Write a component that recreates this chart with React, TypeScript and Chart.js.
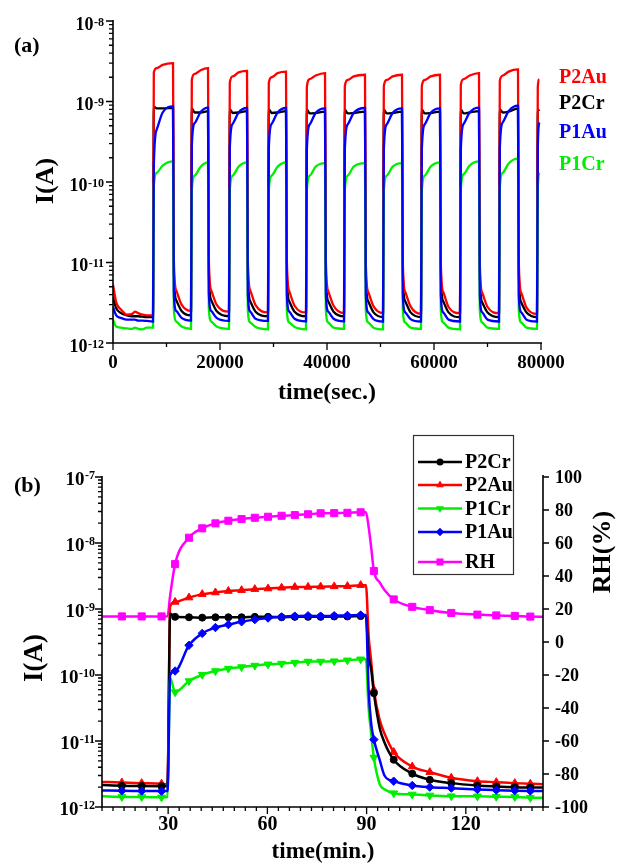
import React, { useEffect, useRef } from 'react';
import { Chart, registerables } from 'chart.js';

Chart.register(...registerables);

// ---------------- Panel (a) data ----------------
const timeA = [
  0, 600, 1500, 2600, 3600, 4100, 4700, 5500, 6300,
  7480, 7630, 8180, 9280, 11220, 11370, 11820, 12820,
  14580, 14730, 15280, 16380, 17760, 17910, 18360, 19360,
  21680, 21830, 22380, 23480, 25050, 25200, 25650, 26650,
  28970, 29120, 29670, 30770, 32340, 32490, 32940, 33940,
  36080, 36230, 36780, 37880, 39630, 39780, 40230, 41230,
  43180, 43330, 43880, 44980, 47100, 47250, 47700, 48700,
  50470, 50620, 51170, 52270, 54020, 54170, 54620, 55620,
  57570, 57720, 58270, 59370, 61120, 61270, 61720, 62720,
  64860, 65010, 65560, 66660, 68410, 68560, 69010, 70010,
  72150, 72300, 72850, 73950, 75700, 75850, 76300, 77300,
  79250, 79400, 79650,
];
const p2AuA = [
  5.3e-12, 3.2e-12, 2.6e-12, 2.25e-12, 2.3e-12, 2.45e-12, 2.35e-12, 2.25e-12, 2.2e-12,
  2.2e-12, 2.3e-9, 2.6e-9, 2.85e-9, 3.0e-9, 1.1e-11, 4.5e-12, 3.0e-12,
  2.5e-12, 1.85e-9, 2.2e-9, 2.45e-9, 2.6e-9, 1.1e-11, 4.5e-12, 3.0e-12,
  2.45e-12, 1.7e-9, 2.05e-9, 2.3e-9, 2.4e-9, 1.1e-11, 4.5e-12, 2.95e-12,
  2.4e-12, 1.7e-9, 2.0e-9, 2.25e-9, 2.35e-9, 1.1e-11, 4.4e-12, 2.9e-12,
  2.4e-12, 1.5e-9, 1.9e-9, 2.1e-9, 2.25e-9, 1.1e-11, 4.4e-12, 2.9e-12,
  2.35e-12, 1.55e-9, 1.85e-9, 2.05e-9, 2.15e-9, 1.0e-11, 4.3e-12, 2.85e-12,
  2.35e-12, 1.55e-9, 1.85e-9, 2.05e-9, 2.15e-9, 1.0e-11, 4.3e-12, 2.85e-12,
  2.3e-12, 1.55e-9, 1.85e-9, 2.05e-9, 2.15e-9, 1.0e-11, 4.3e-12, 2.8e-12,
  2.35e-12, 1.6e-9, 1.9e-9, 2.1e-9, 2.25e-9, 1.0e-11, 4.2e-12, 2.8e-12,
  2.35e-12, 1.8e-9, 2.1e-9, 2.35e-9, 2.5e-9, 1.0e-11, 4.2e-12, 2.75e-12,
  2.3e-12, 1.5e-9, 1.9e-9,
];
const p2CrA = [
  3.7e-12, 2.7e-12, 2.35e-12, 2.2e-12, 2.15e-12, 2.15e-12, 2.15e-12, 2.12e-12, 2.1e-12,
  2.1e-12, 8.6e-10, 8.2e-10, 8.2e-10, 8.3e-10, 7.5e-12, 3.4e-12, 2.5e-12,
  2.2e-12, 8.2e-10, 7.3e-10, 7.3e-10, 7.6e-10, 7.5e-12, 3.4e-12, 2.5e-12,
  2.15e-12, 8.0e-10, 7.2e-10, 7.3e-10, 7.6e-10, 7.2e-12, 3.3e-12, 2.45e-12,
  2.15e-12, 8.0e-10, 7.2e-10, 7.3e-10, 7.6e-10, 7.2e-12, 3.3e-12, 2.45e-12,
  2.15e-12, 7.9e-10, 7.1e-10, 7.2e-10, 7.5e-10, 7.2e-12, 3.3e-12, 2.45e-12,
  2.15e-12, 7.9e-10, 7.1e-10, 7.2e-10, 7.5e-10, 7.2e-12, 3.3e-12, 2.4e-12,
  2.1e-12, 7.9e-10, 7.1e-10, 7.2e-10, 7.5e-10, 7.2e-12, 3.3e-12, 2.4e-12,
  2.1e-12, 7.9e-10, 7.1e-10, 7.2e-10, 7.5e-10, 7.2e-12, 3.3e-12, 2.4e-12,
  2.1e-12, 7.9e-10, 7.1e-10, 7.3e-10, 7.6e-10, 7.2e-12, 3.2e-12, 2.4e-12,
  2.1e-12, 8.0e-10, 7.3e-10, 7.5e-10, 8.2e-10, 7.2e-12, 3.2e-12, 2.4e-12,
  2.1e-12, 8.0e-10, 7.6e-10,
];
const p1AuA = [
  2.8e-12, 2.2e-12, 2.05e-12, 1.95e-12, 1.95e-12, 1.95e-12, 1.9e-12, 1.9e-12, 1.88e-12,
  1.85e-12, 1.6e-10, 4.5e-10, 7.3e-10, 8.7e-10, 4.2e-12, 2.5e-12, 2.05e-12,
  1.9e-12, 2.8e-10, 5.4e-10, 7.4e-10, 8.4e-10, 4.2e-12, 2.5e-12, 2.05e-12,
  1.88e-12, 2.6e-10, 5.3e-10, 7.3e-10, 8.3e-10, 4.1e-12, 2.45e-12, 2.0e-12,
  1.88e-12, 2.6e-10, 5.3e-10, 7.3e-10, 8.3e-10, 4.1e-12, 2.45e-12, 2.0e-12,
  1.86e-12, 2.5e-10, 5.2e-10, 7.2e-10, 8.2e-10, 4.1e-12, 2.45e-12, 2.0e-12,
  1.86e-12, 2.5e-10, 5.2e-10, 7.2e-10, 8.3e-10, 4.0e-12, 2.4e-12, 1.98e-12,
  1.85e-12, 2.5e-10, 5.2e-10, 7.2e-10, 8.2e-10, 4.0e-12, 2.4e-12, 1.98e-12,
  1.85e-12, 2.5e-10, 5.2e-10, 7.2e-10, 8.2e-10, 4.0e-12, 2.4e-12, 1.95e-12,
  1.85e-12, 2.5e-10, 5.3e-10, 7.3e-10, 8.4e-10, 4.0e-12, 2.4e-12, 1.95e-12,
  1.85e-12, 2.6e-10, 5.5e-10, 7.6e-10, 8.9e-10, 4.0e-12, 2.4e-12, 1.95e-12,
  1.85e-12, 2.5e-10, 5.5e-10,
];
const p1CrA = [
  1.95e-12, 1.6e-12, 1.55e-12, 1.52e-12, 1.5e-12, 1.55e-12, 1.5e-12, 1.48e-12, 1.55e-12,
  1.55e-12, 9e-11, 1.3e-10, 1.6e-10, 1.8e-10, 2.7e-12, 1.85e-12, 1.6e-12,
  1.5e-12, 8e-11, 1.2e-10, 1.55e-10, 1.75e-10, 2.7e-12, 1.85e-12, 1.6e-12,
  1.5e-12, 8e-11, 1.2e-10, 1.55e-10, 1.75e-10, 2.6e-12, 1.8e-12, 1.58e-12,
  1.48e-12, 8e-11, 1.2e-10, 1.55e-10, 1.75e-10, 2.6e-12, 1.8e-12, 1.58e-12,
  1.48e-12, 7.8e-11, 1.2e-10, 1.55e-10, 1.72e-10, 2.6e-12, 1.8e-12, 1.55e-12,
  1.5e-12, 7.8e-11, 1.2e-10, 1.55e-10, 1.72e-10, 2.6e-12, 1.8e-12, 1.55e-12,
  1.48e-12, 7.8e-11, 1.2e-10, 1.55e-10, 1.72e-10, 2.6e-12, 1.8e-12, 1.55e-12,
  1.5e-12, 7.8e-11, 1.2e-10, 1.55e-10, 1.75e-10, 2.6e-12, 1.8e-12, 1.55e-12,
  1.48e-12, 8e-11, 1.25e-10, 1.6e-10, 1.8e-10, 2.6e-12, 1.8e-12, 1.55e-12,
  1.5e-12, 8.5e-11, 1.3e-10, 1.7e-10, 1.95e-10, 2.6e-12, 1.8e-12, 1.55e-12,
  1.5e-12, 8e-11, 1.3e-10,
];
const xTicksA = [0, 20000, 40000, 60000, 80000];
const xMinorA = [10000, 30000, 50000, 70000];
const yExpA = [-12, -11, -10, -9, -8];
const legendA = ['P2Au', 'P2Cr', 'P1Au', 'P1Cr'];

// ---------------- Panel (b) data ----------------
const timeB = [
  10, 16, 22, 28, 29.8, 30.6, 32.1, 36.3, 40.3, 44.3, 48.2, 52.2, 56.2, 60.2, 64.3, 68.3, 72.3, 76.1,
  80.2, 84.2, 88.2, 89.8, 90.6, 91.4, 92.2, 94, 95.4, 98.2, 103.8, 109.1, 115.6, 123.5, 129.2, 134.8,
  139.5, 143.3,
];
const unmarkedB = [10, 29.8, 30.6, 89.8, 90.6, 91.4, 94, 95.4, 143.3];
const p2CrB = [
  2.15e-12, 2.1e-12, 2.08e-12, 2.07e-12, 2.07e-12, 8.5e-10, 7.6e-10, 7.5e-10, 7.4e-10, 7.5e-10, 7.5e-10,
  7.5e-10, 7.6e-10, 7.6e-10, 7.5e-10, 7.6e-10, 7.6e-10, 7.6e-10, 7.7e-10, 7.7e-10, 7.8e-10, 7.8e-10,
  2.0e-10, 1.2e-10, 5.3e-11, 1.54e-11, 9.5e-12, 5.2e-12, 3.2e-12, 2.58e-12, 2.3e-12, 2.12e-12, 2.05e-12,
  2.0e-12, 1.98e-12, 1.97e-12,
];
const p2AuB = [
  2.4e-12, 2.35e-12, 2.3e-12, 2.25e-12, 2.22e-12, 1.1e-9, 1.28e-9, 1.49e-9, 1.68e-9, 1.78e-9, 1.87e-9,
  1.93e-9, 2.0e-9, 2.04e-9, 2.1e-9, 2.15e-9, 2.16e-9, 2.18e-9, 2.2e-9, 2.22e-9, 2.3e-9, 2.3e-9,
  4e-10, 1.6e-10, 6e-11, 2.05e-11, 1.3e-11, 6.8e-12, 4.1e-12, 3.37e-12, 2.77e-12, 2.46e-12, 2.38e-12,
  2.3e-12, 2.25e-12, 2.22e-12,
];
const p1CrB = [
  1.45e-12, 1.42e-12, 1.42e-12, 1.4e-12, 1.42e-12, 9e-11, 5.5e-11, 8.1e-11, 1.01e-10, 1.15e-10, 1.25e-10,
  1.32e-10, 1.39e-10, 1.45e-10, 1.49e-10, 1.54e-10, 1.6e-10, 1.6e-10, 1.62e-10, 1.67e-10, 1.73e-10, 1.73e-10,
  3.2e-11, 1.28e-11, 5.6e-12, 2.2e-12, 1.85e-12, 1.62e-12, 1.55e-12, 1.5e-12, 1.46e-12, 1.45e-12, 1.43e-12,
  1.42e-12, 1.38e-12, 1.38e-12,
];
const p1AuB = [
  1.78e-12, 1.76e-12, 1.75e-12, 1.74e-12, 1.74e-12, 1.0e-10, 1.15e-10, 2.82e-10, 4.27e-10, 5.24e-10, 5.8e-10,
  6.4e-10, 6.9e-10, 7.3e-10, 7.6e-10, 7.8e-10, 7.9e-10, 7.8e-10, 7.9e-10, 8.0e-10, 8.1e-10, 8.1e-10,
  6e-11, 1.8e-11, 1.05e-11, 5.1e-12, 3.0e-12, 2.46e-12, 2.12e-12, 2.0e-12, 1.93e-12, 1.84e-12, 1.8e-12,
  1.77e-12, 1.75e-12, 1.74e-12,
];
const rhB = [
  15.5, 15.5, 15.5, 15.5, 15.6, 28, 47.2, 63.2, 68.9, 71.9, 73.5, 74.5, 75.3, 75.9, 76.5, 76.9, 77.4, 78.0,
  78.1, 78.3, 78.6, 78.6, 70, 57, 43, 36, 31.5, 25.8, 21.3, 19.3, 17.6, 16.6, 16.1, 15.8, 15.4, 15.3,
];
const xTicksB = [30, 60, 90, 120];
const yExpB = [-12, -11, -10, -9, -8, -7];
const rhTicks = [-100, -80, -60, -40, -20, 0, 20, 40, 60, 80, 100];
const legendB = ['P2Cr', 'P2Au', 'P1Cr', 'P1Au', 'RH'];

// ---------------- styling ----------------
const RED = '#ff0000';
const BLACK = '#000000';
const BLUE = '#0000ff';
const GREEN = '#00ee00';
const MAGENTA = '#ff00ff';
const SERIF = '"Liberation Serif", "Times New Roman", Times, serif';
const f = (px: number) => `bold ${px}px ${SERIF}`;

const pts = (xs: number[], ys: number[]) => xs.map((x, i) => ({ x, y: ys[i] }));

function drawPow(ctx: CanvasRenderingContext2D, e: number, xr: number, y: number, base: number, sup: number, bdy: number, sdy: number) {
  const es = e < 0 ? '-' + Math.abs(e) : String(e);
  ctx.font = f(sup);
  const ew = ctx.measureText(es).width;
  ctx.font = f(base);
  const bw = ctx.measureText('10').width;
  ctx.textAlign = 'left';
  ctx.textBaseline = 'alphabetic';
  ctx.fillText('10', xr - ew - bw - 0.5, y + bdy);
  ctx.font = f(sup);
  ctx.fillText(es, xr - ew, y + sdy);
}

function rotText(ctx: CanvasRenderingContext2D, text: string, x: number, y: number, px: number) {
  ctx.save();
  ctx.translate(x, y);
  ctx.rotate(-Math.PI / 2);
  ctx.font = f(px);
  ctx.textAlign = 'center';
  ctx.textBaseline = 'middle';
  ctx.fillText(text, 0, 0);
  ctx.restore();
}

function marker(ctx: CanvasRenderingContext2D, shape: string, x: number, y: number, r: number) {
  ctx.beginPath();
  if (shape === 'circle') {
    ctx.arc(x, y, r, 0, Math.PI * 2);
  } else if (shape === 'triUp') {
    ctx.moveTo(x, y - r);
    ctx.lineTo(x + r * 0.866, y + r * 0.5);
    ctx.lineTo(x - r * 0.866, y + r * 0.5);
    ctx.closePath();
  } else if (shape === 'triDown') {
    ctx.moveTo(x, y + r);
    ctx.lineTo(x + r * 0.866, y - r * 0.5);
    ctx.lineTo(x - r * 0.866, y - r * 0.5);
    ctx.closePath();
  } else if (shape === 'diamond') {
    ctx.moveTo(x, y - r);
    ctx.lineTo(x + r, y);
    ctx.lineTo(x, y + r);
    ctx.lineTo(x - r, y);
    ctx.closePath();
  } else {
    const s = r * 0.707;
    ctx.rect(x - s, y - s, 2 * s, 2 * s);
  }
  ctx.fill();
}

const plugA = {
  id: 'plugA',
  afterDraw(chart: any) {
    const { ctx, chartArea: a } = chart;
    const xs = chart.scales.x;
    const ys = chart.scales.y;
    ctx.save();
    ctx.fillStyle = '#000';
    ctx.strokeStyle = '#000';
    ctx.lineWidth = 1.6;
    ctx.beginPath();
    ctx.moveTo(a.left, a.top - 1);
    ctx.lineTo(a.left, a.bottom);
    ctx.lineTo(a.right + 1, a.bottom);
    ctx.stroke();
    ctx.lineWidth = 1.3;
    ctx.beginPath();
    yExpA.forEach((e, i) => {
      const y = ys.getPixelForValue(Math.pow(10, e));
      ctx.moveTo(a.left, y);
      ctx.lineTo(a.left - 7, y);
      if (i < yExpA.length - 1) {
        for (let k = 2; k <= 9; k++) {
          const yy = ys.getPixelForValue(k * Math.pow(10, e));
          ctx.moveTo(a.left, yy);
          ctx.lineTo(a.left - 4, yy);
        }
      }
    });
    xTicksA.forEach((v) => {
      const x = xs.getPixelForValue(v);
      ctx.moveTo(x, a.bottom);
      ctx.lineTo(x, a.bottom + 7);
    });
    xMinorA.forEach((v) => {
      const x = xs.getPixelForValue(v);
      ctx.moveTo(x, a.bottom);
      ctx.lineTo(x, a.bottom + 4);
    });
    ctx.stroke();
    yExpA.forEach((e) => drawPow(ctx, e, a.left - 9, ys.getPixelForValue(Math.pow(10, e)), 18, 12, 8.5, 4.5));
    ctx.font = f(19);
    ctx.textAlign = 'center';
    ctx.textBaseline = 'middle';
    xTicksA.forEach((v) => ctx.fillText(String(v), xs.getPixelForValue(v), a.bottom + 20));
    ctx.font = f(24);
    ctx.fillText('time(sec.)', (a.left + a.right) / 2, 393);
    rotText(ctx, 'I(A)', 46, 181, 26);
    ctx.font = f(22);
    ctx.textAlign = 'left';
    ctx.fillText('(a)', 14, 46);
    const cols = [RED, BLACK, BLUE, GREEN];
    const ly = [77.5, 104, 133, 165];
    ctx.font = f(20);
    legendA.forEach((t, i) => {
      ctx.fillStyle = cols[i];
      ctx.fillText(t, 559, ly[i]);
    });
    ctx.restore();
  },
};

const plugB = {
  id: 'plugB',
  afterDraw(chart: any) {
    const { ctx, chartArea: a } = chart;
    const xs = chart.scales.x;
    const ys = chart.scales.y;
    const ys2 = chart.scales.y2;
    ctx.save();
    ctx.fillStyle = '#000';
    ctx.strokeStyle = '#000';
    ctx.lineWidth = 1.6;
    ctx.beginPath();
    ctx.moveTo(a.left, a.top - 1);
    ctx.lineTo(a.left, a.bottom);
    ctx.lineTo(a.right, a.bottom);
    ctx.lineTo(a.right, a.top - 2);
    ctx.stroke();
    ctx.lineWidth = 1.3;
    ctx.beginPath();
    yExpB.forEach((e, i) => {
      const y = ys.getPixelForValue(Math.pow(10, e));
      ctx.moveTo(a.left, y);
      ctx.lineTo(a.left - 7, y);
      if (i < yExpB.length - 1) {
        for (let k = 2; k <= 9; k++) {
          const yy = ys.getPixelForValue(k * Math.pow(10, e));
          ctx.moveTo(a.left, yy);
          ctx.lineTo(a.left - 4, yy);
        }
      }
    });
    for (let v = xs.min; v <= xs.max + 0.01; v += 10 / 3) {
      const x = xs.getPixelForValue(v);
      ctx.moveTo(x, a.bottom);
      ctx.lineTo(x, a.bottom + 4);
    }
    xTicksB.forEach((v) => {
      const x = xs.getPixelForValue(v);
      ctx.moveTo(x, a.bottom);
      ctx.lineTo(x, a.bottom + 7);
    });
    rhTicks.forEach((v) => {
      const y = ys2.getPixelForValue(v);
      ctx.moveTo(a.right, y);
      ctx.lineTo(a.right + 6, y);
    });
    ctx.stroke();
    yExpB.forEach((e) => drawPow(ctx, e, a.left - 7, ys.getPixelForValue(Math.pow(10, e)), 19, 12, 8, 1.5));
    ctx.font = f(20);
    ctx.textAlign = 'center';
    ctx.textBaseline = 'middle';
    xTicksB.forEach((v) => ctx.fillText(String(v), xs.getPixelForValue(v), a.bottom + 18));
    ctx.font = f(18);
    ctx.textAlign = 'left';
    rhTicks.forEach((v) => ctx.fillText(String(v), a.right + 12, ys2.getPixelForValue(v) + 1));
    ctx.font = f(23);
    ctx.textAlign = 'center';
    ctx.fillText('time(min.)', 323, 432);
    rotText(ctx, 'I(A)', 35, 238, 27);
    rotText(ctx, 'RH(%)', 603, 132, 26);
    ctx.font = f(22);
    ctx.textAlign = 'left';
    ctx.fillText('(b)', 14, 66);
    // legend box
    ctx.lineWidth = 1.2;
    ctx.strokeStyle = '#333';
    ctx.strokeRect(413.5, 15.5, 100, 139);
    const cols = [BLACK, RED, GREEN, BLUE, MAGENTA];
    const shapes = ['circle', 'triUp', 'triDown', 'diamond', 'square'];
    const radii = [3.5, 4.5, 4.5, 4.2, 5];
    const ly = [42, 65, 88.5, 112, 142];
    ctx.font = f(20);
    ctx.textBaseline = 'middle';
    legendB.forEach((t, i) => {
      ctx.strokeStyle = cols[i];
      ctx.fillStyle = cols[i];
      ctx.lineWidth = 2.5;
      ctx.beginPath();
      ctx.moveTo(418, ly[i]);
      ctx.lineTo(462, ly[i]);
      ctx.stroke();
      marker(ctx, shapes[i], 440, ly[i], radii[i]);
      ctx.fillStyle = '#000';
      ctx.fillText(t, 465, ly[i] + 1);
    });
    ctx.restore();
  },
};

function configA(): any {
  const mk = (label: string, ys: number[], color: string, order: number) => ({
    label,
    data: pts(timeA, ys),
    borderColor: color,
    backgroundColor: color,
    borderWidth: 2.3,
    pointRadius: 0,
    cubicInterpolationMode: 'monotone',
    order,
  });
  return {
    type: 'line',
    data: {
      datasets: [
        mk('P1Au', p1AuA, BLUE, 0),
        mk('P1Cr', p1CrA, GREEN, 1),
        mk('P2Au', p2AuA, RED, 2),
        mk('P2Cr', p2CrA, BLACK, 3),
      ],
    },
    options: {
      responsive: false,
      animation: false,
      devicePixelRatio: 1,
      events: [],
      layout: { padding: { left: 113, top: 21, right: 82, bottom: 77 } },
      scales: {
        x: { type: 'linear', min: 0, max: 80000, display: false, bounds: 'data' },
        y: { type: 'logarithmic', min: 1e-12, max: 1e-8, display: false },
      },
      plugins: { legend: { display: false }, tooltip: { enabled: false } },
    },
    plugins: [plugA],
  };
}

function configB(): any {
  const radius = (r: number) => (c: any) => (unmarkedB.includes(timeB[c.dataIndex]) ? 0 : r);
  const mk = (label: string, ys: number[], color: string, style: string, r: number, rot: number, axis: string, order: number) => ({
    label,
    data: pts(timeB, ys),
    borderColor: color,
    backgroundColor: color,
    borderWidth: 2.5,
    pointStyle: style,
    pointRotation: rot,
    pointRadius: radius(r),
    pointBorderWidth: 1,
    cubicInterpolationMode: 'monotone',
    yAxisID: axis,
    order,
  });
  return {
    type: 'line',
    data: {
      datasets: [
        mk('P2Cr', p2CrB, BLACK, 'circle', 3.5, 0, 'y', 2),
        mk('P2Au', p2AuB, RED, 'triangle', 4.5, 0, 'y', 3),
        mk('P1Cr', p1CrB, GREEN, 'triangle', 4.5, 180, 'y', 1),
        mk('P1Au', p1AuB, BLUE, 'rectRot', 4.2, 0, 'y', 0),
        mk('RH', rhB, MAGENTA, 'rect', 5, 0, 'y2', 4),
      ],
    },
    options: {
      responsive: false,
      animation: false,
      devicePixelRatio: 1,
      events: [],
      layout: { padding: { left: 102, top: 57, right: 80, bottom: 58 } },
      scales: {
        x: { type: 'linear', min: 10, max: 143.33, display: false, bounds: 'data' },
        y: { type: 'logarithmic', min: 1e-12, max: 1e-7, display: false, position: 'left' },
        y2: { type: 'linear', min: -100, max: 100, display: false, position: 'right', bounds: 'data' },
      },
      plugins: { legend: { display: false }, tooltip: { enabled: false } },
    },
    plugins: [plugB],
  };
}

function Panel({ top, height, build }: { top: number; height: number; build: () => any }) {
  const ref = useRef<HTMLCanvasElement | null>(null);
  useEffect(() => {
    if (!ref.current) return;
    const chart = new Chart(ref.current, build());
    return () => chart.destroy();
  }, []);
  return (
    <canvas
      ref={ref}
      width={623}
      height={height}
      style={{ position: 'absolute', left: 0, top, width: 623, height, display: 'block' }}
    />
  );
}

export default function App() {
  return (
    <div style={{ position: 'absolute', left: 0, top: 0, width: 623, height: 865, background: '#fff', overflow: 'hidden' }}>
      <Panel top={0} height={420} build={configA} />
      <Panel top={420} height={445} build={configB} />
    </div>
  );
}
